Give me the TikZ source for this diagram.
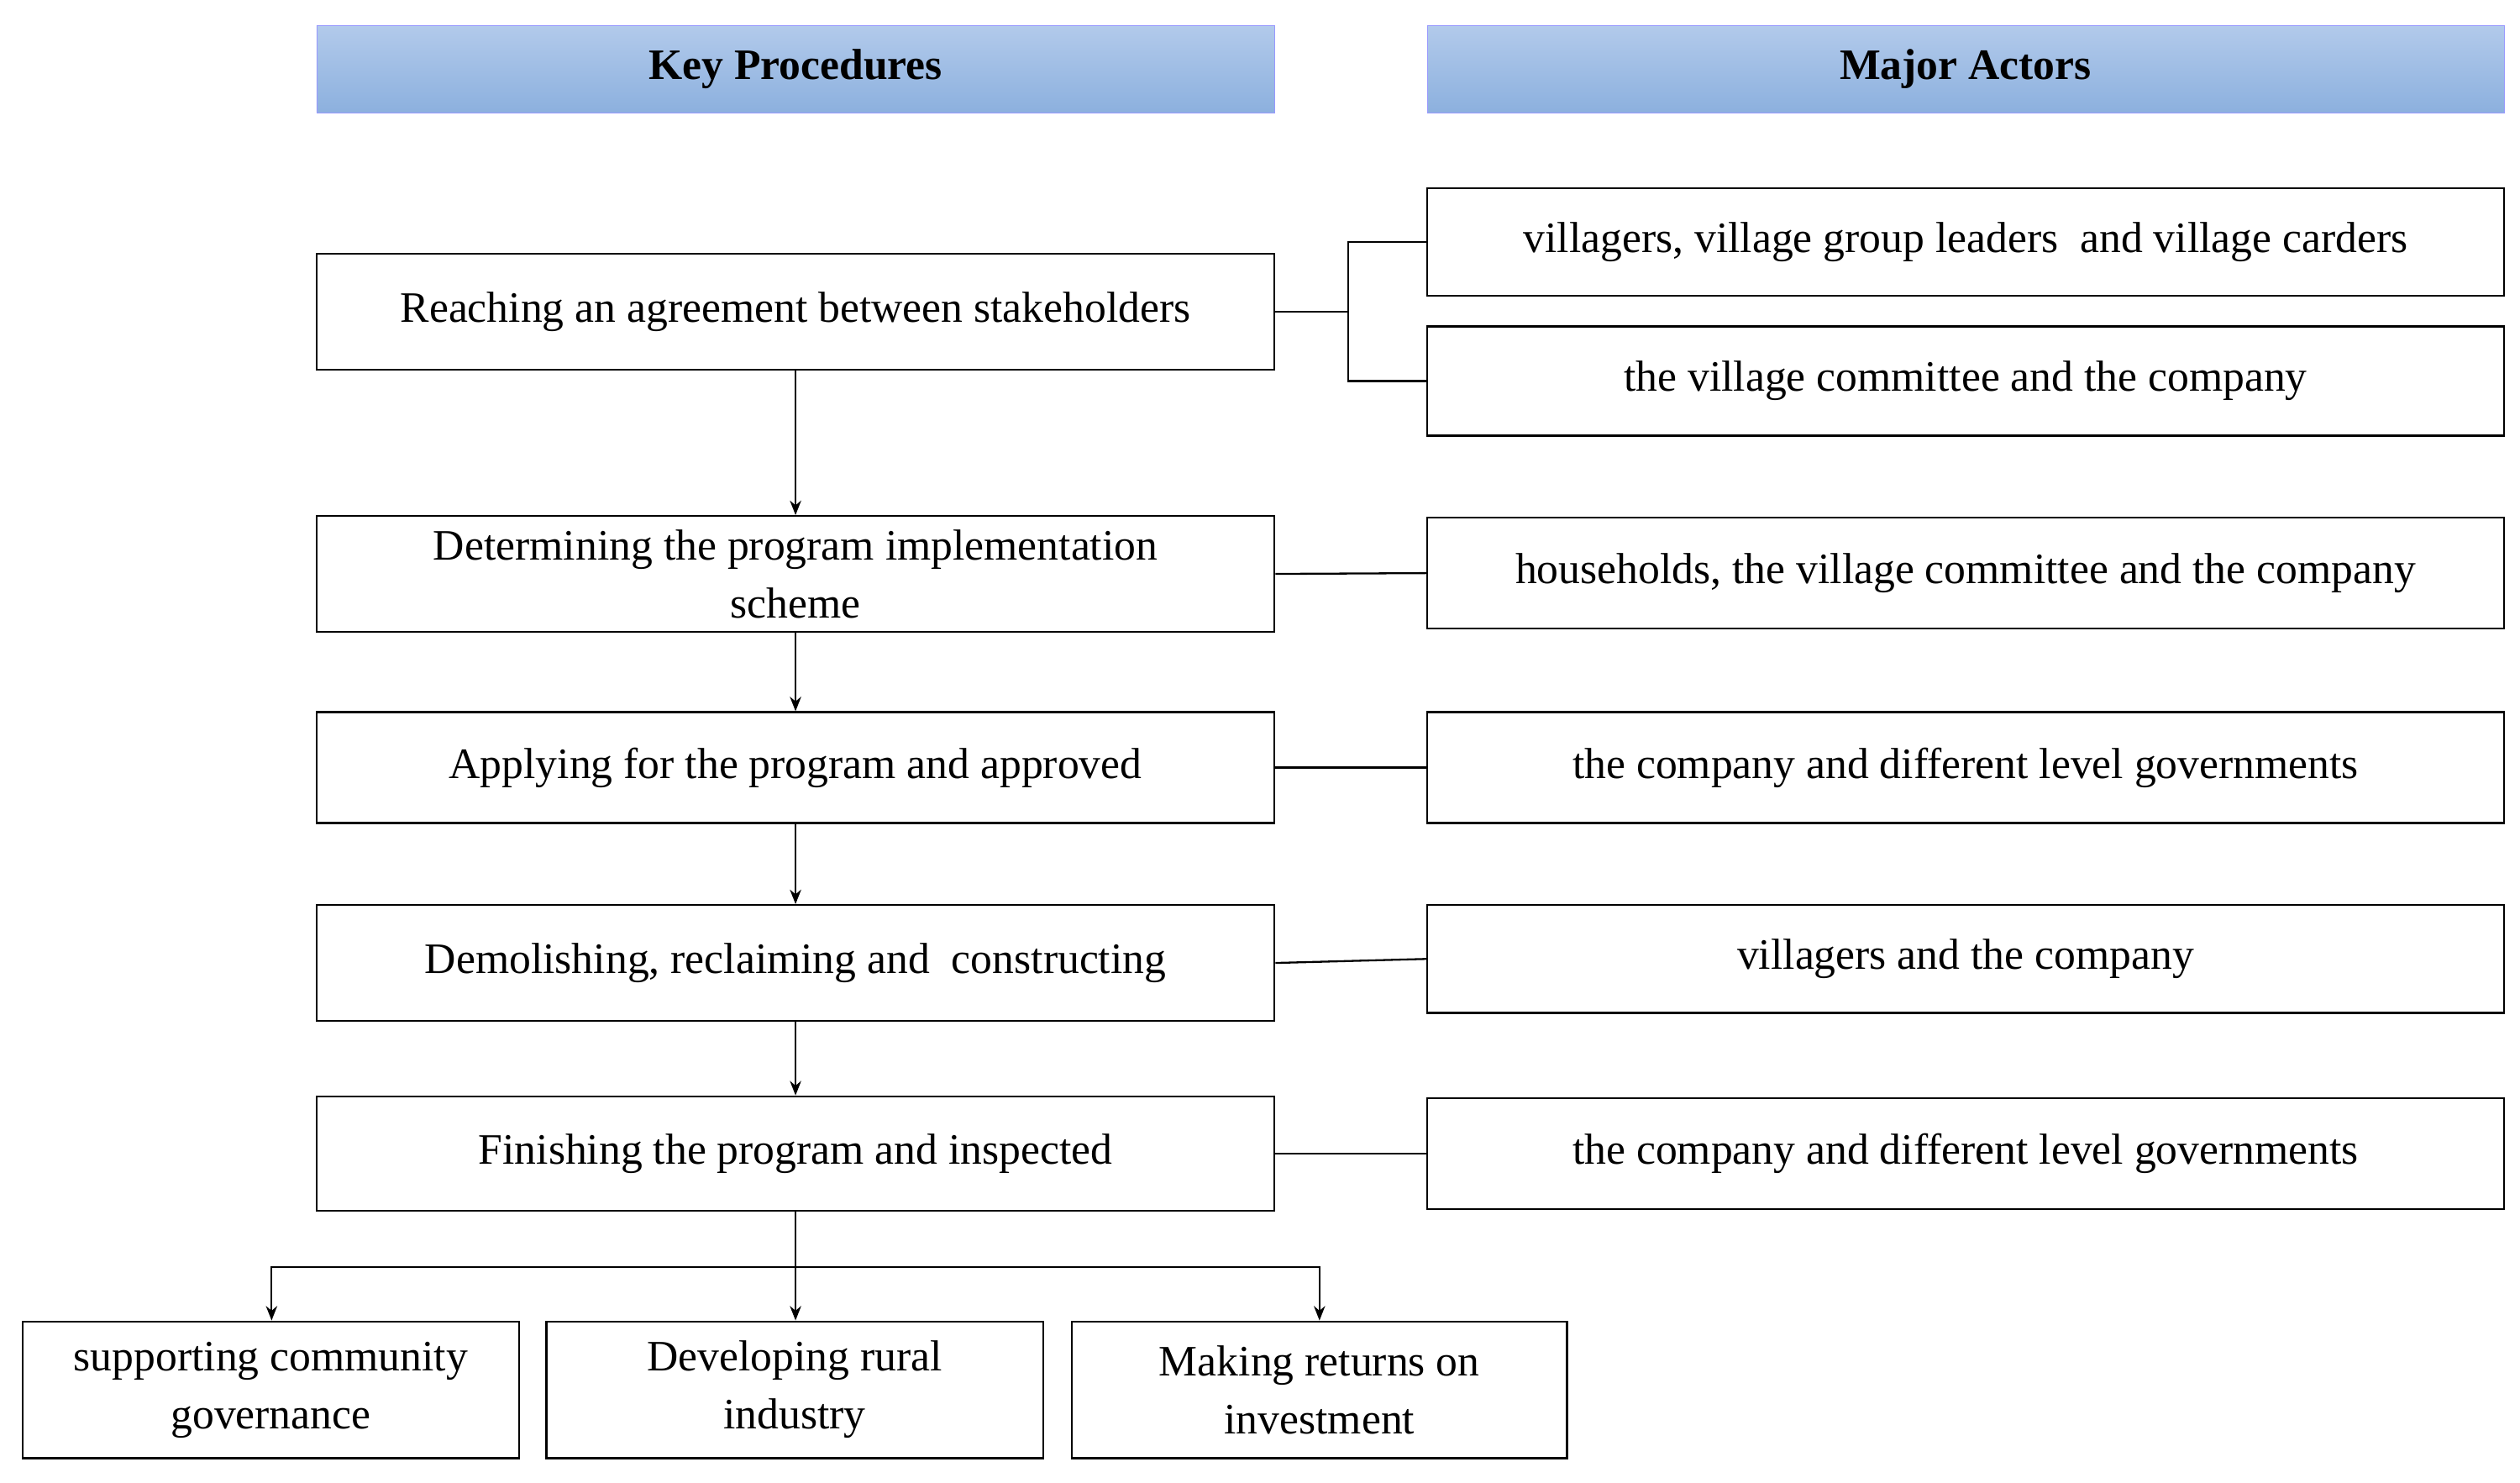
\documentclass[tikz,border=0pt]{standalone}
\usepackage{fontspec}
\setmainfont{Liberation Serif}
\usetikzlibrary{arrows.meta}
\begin{document}
\begin{tikzpicture}[x=1pt,y=-1pt,
  box/.style={draw,line width=1.2pt,inner sep=0pt,align=center,font=\fontsize{27}{36}\selectfont},
  head/.style={draw=blue!40,top color={rgb,255:red,178;green,202;blue,235},bottom color={rgb,255:red,140;green,176;blue,222},inner sep=0pt,font=\fontsize{27}{32}\selectfont\bfseries},
  conn/.style={line width=1.2pt},
  arr/.style={line width=1.2pt,-{Stealth[length=9pt,width=7pt]}}]
\useasboundingbox (0,0) rectangle (1568,922);
\newcommand{\bx}[7]{\node[#1,minimum width={(#4-#2)*1pt},minimum height={(#5-#3)*1pt}] (#6) at ({(#2+#4)/2},{(#3+#5)/2}) {#7};}
\bx{head}{197}{16}{793}{70}{hl}{Key Procedures}
\bx{head}{888}{16}{1558}{70}{hr}{Major Actors}
\bx{box}{197}{158}{793}{230}{l1}{Reaching an agreement between stakeholders}
\bx{box}{197}{321}{793}{393}{l2}{Determining the program implementation\\scheme}
\bx{box}{197}{443}{793}{512}{l3}{Applying for the program and approved}
\bx{box}{197}{563}{793}{635}{l4}{Demolishing, reclaiming and\ \ constructing}
\bx{box}{197}{682}{793}{753}{l5}{Finishing the program and inspected}
\bx{box}{888}{117}{1558}{184}{r1a}{villagers, village group leaders\ \ and village carders}
\bx{box}{888}{203}{1558}{271}{r1b}{the village committee and the company}
\bx{box}{888}{322}{1558}{391}{r2}{households, the village committee and the company}
\bx{box}{888}{443}{1558}{512}{r3}{the company and different level governments}
\bx{box}{888}{563}{1558}{630}{r4}{villagers and the company}
\bx{box}{888}{683}{1558}{752}{r5}{the company and different level governments}
\bx{box}{14}{822}{323}{907}{b1}{supporting community\\governance}
\bx{box}{340}{822}{649}{907}{b2}{Developing rural\\industry}
\bx{box}{667}{822}{975}{907}{b3}{Making returns on\\investment}
\coordinate (br) at (839,194);
\draw[conn] (l1.east) -- (br);
\draw[conn] (r1a.west) -| (br) |- (r1b.west);
\draw[conn] (l2.east) -- (r2.west);
\draw[conn] (l3.east) -- (r3.west);
\draw[conn] (l4.east) -- (r4.west);
\draw[conn] (l5.east) -- (r5.west);
\draw[arr] (l1.south -| 495,0) -- (l2.north -| 495,0);
\draw[arr] (l2.south -| 495,0) -- (l3.north -| 495,0);
\draw[arr] (l3.south -| 495,0) -- (l4.north -| 495,0);
\draw[arr] (l4.south -| 495,0) -- (l5.north -| 495,0);
\coordinate (sp) at (495,788);
\draw[conn] (l5.south -| 495,0) -- (sp);
\draw[arr] (sp) -| (b1.north -| 169,0);
\draw[arr] (sp) -- (b2.north -| 495,0);
\draw[arr] (sp) -| (b3.north -| 821,0);
\end{tikzpicture}
\end{document}
